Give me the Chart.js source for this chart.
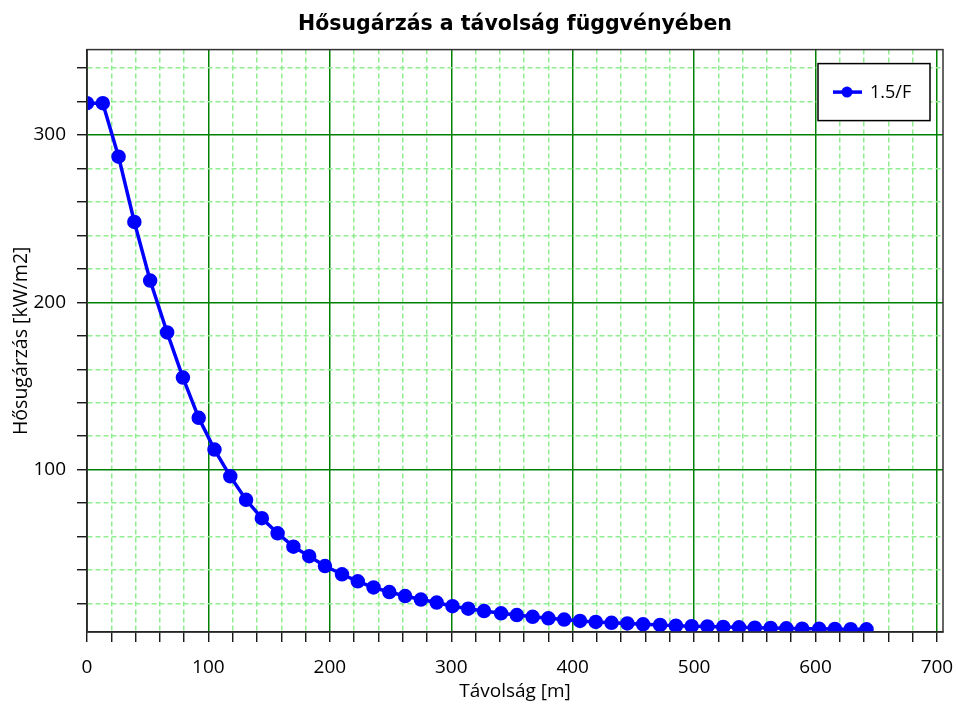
<!DOCTYPE html>
<html>
<head>
<meta charset="utf-8">
<script src="https://cdn.jsdelivr.net/npm/chart.js@4"></script>
<style>
  html, body { margin: 0; padding: 0; background: #fff; }
  canvas { display: block; }
</style>
</head>
<body>
<canvas id="chart" width="958" height="706"></canvas>
<script>
const chartTitle = "Hősugárzás a távolság függvényében";
const xTitle = "Távolság [m]";
const yTitle = "Hősugárzás [kW/m2]";
const seriesName = "1.5/F";

// távolság [m]
const distance = [0, 13, 26, 39, 52, 66, 79, 92, 105, 118,
  131, 144, 157, 170, 183, 196, 210, 223, 236, 249,
  262, 275, 288, 301, 314, 327, 341, 354, 367, 380,
  393, 406, 419, 432, 445, 458, 472, 485, 498, 511,
  524, 537, 550, 563, 576, 589, 603, 616, 629, 642];

// hősugárzás [kW/m2]
const radiation = [319, 319, 287, 248, 213, 182, 155, 131, 112, 96,
  82, 71, 62, 54, 48.3, 42.4, 37.5, 33.3, 29.6, 26.9,
  24.5, 22.4, 20.6, 18.4, 16.9, 15.5, 14.2, 13.1, 12.1, 11.2,
  10.4, 9.6, 9.0, 8.5, 8.1, 7.6, 7.2, 6.8, 6.5, 6.3,
  6.0, 5.8, 5.6, 5.4, 5.2, 5.0, 4.9, 4.8, 4.7, 4.6];

const xTicks = [0, 20, 40, 60, 80, 100, 120, 140, 160, 180, 200, 220, 240, 260, 280,
  300, 320, 340, 360, 380, 400, 420, 440, 460, 480, 500, 520, 540, 560, 580,
  600, 620, 640, 660, 680, 700];
const yTicks = [20, 40, 60, 80, 100, 120, 140, 160, 180, 200, 220, 240, 260, 280, 300, 320, 340];
const xRange = [0, 705];
const yRange = [3, 351];

const FONT = "'Segoe UI', 'Open Sans', sans-serif";
const MAJOR = 100;

const isMajor = v => v % MAJOR === 0;
const gridColor = c => {
  if (!c.tick) return '#90ee90';
  return isMajor(c.tick.value) ? '#008000' : '#90ee90';
};
const gridDash = c => (c.tick && !isMajor(c.tick.value)) ? [5, 3] : [];

// keret + jelmagyarázat a rajzterületen belül
const frameAndLegend = {
  id: 'frameAndLegend',
  afterDraw(chart) {
    const { ctx, chartArea: a } = chart;
    ctx.save();
    ctx.strokeStyle = '#333';
    ctx.lineWidth = 1.5;
    ctx.strokeRect(a.left, a.top, a.right - a.left, a.bottom - a.top);

    const ds = chart.data.datasets[0];
    const bx = a.right - 125, by = a.top + 14, bw = 112, bh = 57;
    ctx.fillStyle = '#fff';
    ctx.fillRect(bx, by, bw, bh);
    ctx.strokeStyle = '#000';
    ctx.lineWidth = 1.5;
    ctx.strokeRect(bx, by, bw, bh);
    const cy = by + bh / 2;
    ctx.strokeStyle = ds.borderColor;
    ctx.lineWidth = 3.5;
    ctx.beginPath();
    ctx.moveTo(bx + 15, cy);
    ctx.lineTo(bx + 44, cy);
    ctx.stroke();
    ctx.fillStyle = ds.borderColor;
    ctx.beginPath();
    ctx.arc(bx + 29, cy, 5.5, 0, Math.PI * 2);
    ctx.fill();
    ctx.fillStyle = '#000';
    ctx.font = "18px " + FONT;
    ctx.textBaseline = 'middle';
    ctx.fillText(ds.label, bx + 52, cy + 1);
    ctx.restore();
  }
};

new Chart(document.getElementById('chart'), {
  type: 'line',
  data: {
    datasets: [{
      label: seriesName,
      data: distance.map((d, i) => ({ x: d, y: radiation[i] })),
      borderColor: '#0000ff',
      backgroundColor: '#0000ff',
      borderWidth: 3.5,
      pointRadius: 5.5,
      pointBackgroundColor: '#0000ff',
      pointBorderColor: '#0000ff',
      tension: 0,
      clip: 0
    }]
  },
  options: {
    responsive: false,
    animation: false,
    layout: { padding: { top: 1, right: 15, bottom: 0, left: 0 } },
    scales: {
      x: {
        type: 'linear',
        min: xRange[0],
        max: xRange[1],
        afterBuildTicks: s => { s.ticks = xTicks.map(v => ({ value: v })); },
        afterFit: s => { s.height = 74; s.paddingLeft = 0; s.paddingRight = 0; },
        grid: { color: gridColor, lineWidth: 1.5, tickColor: '#000', tickLength: 10, tickWidth: 1.3 },
        border: { color: '#000', width: 1.5, dash: gridDash },
        ticks: {
          autoSkip: false, maxRotation: 0, padding: 14, color: '#000',
          font: { family: FONT, size: 19 },
          callback: v => isMajor(v) ? String(v) : ''
        },
        title: { display: true, text: xTitle, color: '#000', font: { family: FONT, size: 19 }, padding: { top: 0, bottom: 3 } }
      },
      y: {
        type: 'linear',
        min: yRange[0],
        max: yRange[1],
        afterBuildTicks: s => { s.ticks = yTicks.map(v => ({ value: v })); },
        afterFit: s => { s.width = 87; },
        grid: { color: gridColor, lineWidth: 1.5, tickColor: '#000', tickLength: 10, tickWidth: 1.3 },
        border: { color: '#000', width: 1.5, dash: gridDash },
        ticks: {
          autoSkip: false, padding: 11, color: '#000',
          font: { family: FONT, size: 19 },
          callback: v => isMajor(v) ? String(v) : ''
        },
        title: { display: true, text: yTitle, color: '#000', font: { family: FONT, size: 19.5 }, padding: { top: 10, bottom: 0 } }
      }
    },
    plugins: {
      legend: { display: false },
      tooltip: { enabled: false },
      title: {
        display: true,
        fullSize: false,
        text: chartTitle,
        color: '#000',
        font: { family: "'DejaVu Sans', sans-serif", size: 20.5, weight: 'bold' },
        padding: { top: 11, bottom: 13 }
      }
    }
  },
  plugins: [frameAndLegend]
});
</script>
</body>
</html>
